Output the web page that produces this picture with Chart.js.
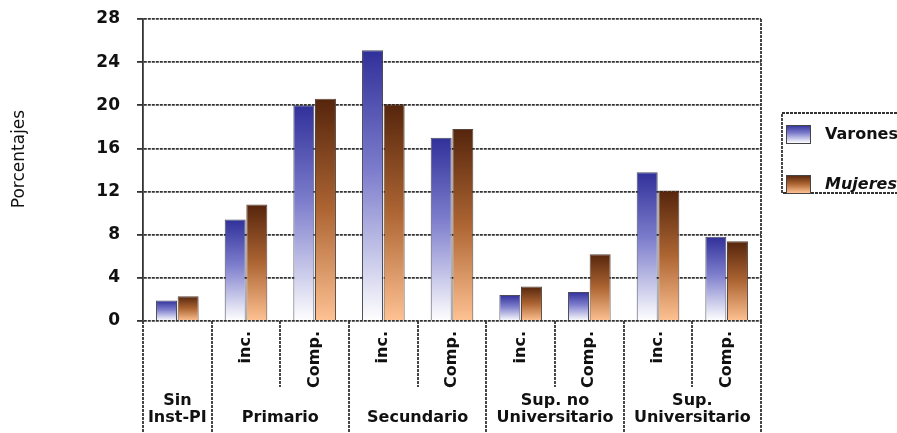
<!DOCTYPE html>
<html>
<head>
<meta charset="utf-8">
<script src="https://cdn.jsdelivr.net/npm/chart.js@4.4.1/dist/chart.umd.min.js"></script>
<style>
  html, body { margin: 0; padding: 0; background: #fff; overflow: hidden; }
  #wrap { width: 897px; height: 433px; position: relative; }
</style>
</head>
<body>
<div id="wrap"><canvas id="c" width="897" height="433"></canvas></div>
<script>
// Nivel educativo: sub-niveles (incompleto / completo) por nivel
const groupLabels = [['Sin', 'Inst-PI'], ['Primario'], ['Secundario'], ['Sup. no', 'Universitario'], ['Sup.', 'Universitario']];
const groupSpans = [1, 2, 2, 2, 2];
const subLabels = ['', 'inc.', 'Comp.', 'inc.', 'Comp.', 'inc.', 'Comp.', 'inc.', 'Comp.'];

// Porcentajes por sexo
const varones = [1.9, 9.4, 20.0, 25.1, 17.0, 2.4, 2.7, 13.8, 7.8];
const mujeres = [2.3, 10.8, 20.6, 20.1, 17.8, 3.2, 6.2, 12.1, 7.4];

const seriesNames = ['Varones', 'Mujeres'];
const yMin = 0, yMax = 28, yStep = 4;
const yTitle = 'Porcentajes';

// category keys built from groups + sub-levels
const categories = [];
{
  let k = 0;
  groupSpans.forEach((span, g) => {
    for (let s = 0; s < span; s++, k++) {
      categories.push(groupLabels[g].join(' ') + (subLabels[k] ? ' ' + subLabels[k] : ''));
    }
  });
}

const blueStops = [[0, '#30309a'], [0.45, '#7e7ecd'], [1, '#ffffff']];
const brownStops = [[0, '#55250c'], [0.5, '#ad6533'], [1, '#ffc293']];
const lineColor = '#333333';
const lineWidth = 1.8;
const lineDash = [3, 1];

function barGradient(ctx, stops) {
  const chart = ctx.chart;
  if (!chart.chartArea || ctx.type !== 'data' || !ctx.parsed) return stops[1][1];
  const ys = chart.scales.y;
  const top = ys.getPixelForValue(ctx.parsed.y);
  const base = ys.getPixelForValue(0);
  const g = chart.ctx.createLinearGradient(0, top, 0, base);
  stops.forEach(([o, c]) => g.addColorStop(o, c));
  return g;
}

const decor = {
  id: 'decor',
  afterDraw(chart) {
    const c = chart.ctx;
    const xs = chart.scales.x;
    const area = chart.chartArea;
    const H = chart.height;
    const half = (xs.getPixelForValue(1) - xs.getPixelForValue(0)) / 2;
    const edge = i => i < categories.length ? xs.getPixelForValue(i) - half : xs.getPixelForValue(i - 1) + half;

    c.save();
    c.strokeStyle = lineColor;
    c.lineWidth = lineWidth;
    c.setLineDash(lineDash);

    // right border of the plot
    c.beginPath();
    c.moveTo(area.right, area.top);
    c.lineTo(area.right, area.bottom);
    c.stroke();

    // separators of the category axis
    const groupEdges = [0];
    groupSpans.reduce((acc, s) => { groupEdges.push(acc + s); return acc + s; }, 0);
    for (let i = 0; i <= categories.length; i++) {
      const x = Math.round(edge(i));
      const long = groupEdges.includes(i);
      c.beginPath();
      c.moveTo(x, area.bottom);
      c.lineTo(x, long ? H : area.bottom + 66);
      c.stroke();
    }
    c.setLineDash([]);

    // sub-level labels (rotated)
    c.fillStyle = '#111';
    c.font = 'bold 16px "DejaVu Sans"';
    c.textAlign = 'right';
    c.textBaseline = 'middle';
    subLabels.forEach((t, i) => {
      if (!t) return;
      c.save();
      c.translate(xs.getPixelForValue(i), area.bottom + 10);
      c.rotate(-Math.PI / 2);
      c.fillText(t, 0, 0);
      c.restore();
    });

    // group labels
    c.textAlign = 'center';
    let k = 0;
    groupSpans.forEach((span, g) => {
      const cx = (edge(k) + edge(k + span)) / 2;
      const lines = groupLabels[g];
      const y0 = lines.length === 2 ? 401 : 418;
      lines.forEach((t, j) => c.fillText(t, cx, y0 + j * 17));
      k += span;
    });

    // y axis title
    c.font = '17px "DejaVu Sans"';
    c.save();
    c.translate(20, 159);
    c.rotate(-Math.PI / 2);
    c.fillText(yTitle, 0, 0);
    c.restore();

    // legend
    const lx = 782, ly = 113, lw = 140, lh = 80;
    c.strokeStyle = lineColor;
    c.lineWidth = lineWidth;
    c.setLineDash(lineDash);
    c.strokeRect(lx, ly, lw, lh);
    c.setLineDash([]);
    const items = [
      { name: seriesNames[0], stops: blueStops, y: 125, font: 'bold 16px "DejaVu Sans"' },
      { name: seriesNames[1], stops: brownStops, y: 175, font: 'italic bold 16px "DejaVu Sans"' }
    ];
    items.forEach(it => {
      const g = c.createLinearGradient(0, it.y, 0, it.y + 18);
      it.stops.forEach(([o, col]) => g.addColorStop(o, col));
      c.fillStyle = g;
      c.fillRect(786, it.y, 24, 18);
      c.strokeStyle = '#444';
      c.lineWidth = 1;
      c.strokeRect(786.5, it.y + 0.5, 24, 18);
      c.fillStyle = '#111';
      c.font = it.font;
      c.textAlign = 'left';
      c.textBaseline = 'middle';
      c.fillText(it.name, 825, it.y + 10);
    });
    c.restore();
  }
};

new Chart(document.getElementById('c'), {
  type: 'bar',
  data: {
    labels: categories,
    datasets: [
      {
        label: seriesNames[0],
        data: varones,
        backgroundColor: ctx => barGradient(ctx, blueStops),
        borderColor: 'rgba(30,30,50,0.8)',
        borderWidth: 1,
        barPercentage: 0.97,
        categoryPercentage: 0.63
      },
      {
        label: seriesNames[1],
        data: mujeres,
        backgroundColor: ctx => barGradient(ctx, brownStops),
        borderColor: 'rgba(45,25,15,0.8)',
        borderWidth: 1,
        barPercentage: 0.97,
        categoryPercentage: 0.63
      }
    ]
  },
  options: {
    responsive: false,
    animation: false,
    devicePixelRatio: 1,
    layout: { padding: { left: 0, right: 136, top: 19, bottom: 0 } },
    plugins: { legend: { display: false }, tooltip: { enabled: false } },
    scales: {
      x: {
        ticks: { display: false },
        grid: { display: false },
        border: { display: false },
        afterFit: s => { s.height = 112; }
      },
      y: {
        min: yMin,
        max: yMax,
        ticks: {
          stepSize: yStep,
          color: '#111',
          padding: 17,
          font: { family: 'DejaVu Sans', size: 17, weight: 'bold' }
        },
        grid: { color: lineColor, lineWidth: lineWidth, tickLength: 6 },
        border: { display: true, color: lineColor, width: lineWidth, dash: lineDash },
        afterFit: s => {
          s.width = 143;
          s.paddingTop = 10;
          s.paddingBottom = 10;
        }
      }
    }
  },
  plugins: [decor]
});
</script>
</body>
</html>
